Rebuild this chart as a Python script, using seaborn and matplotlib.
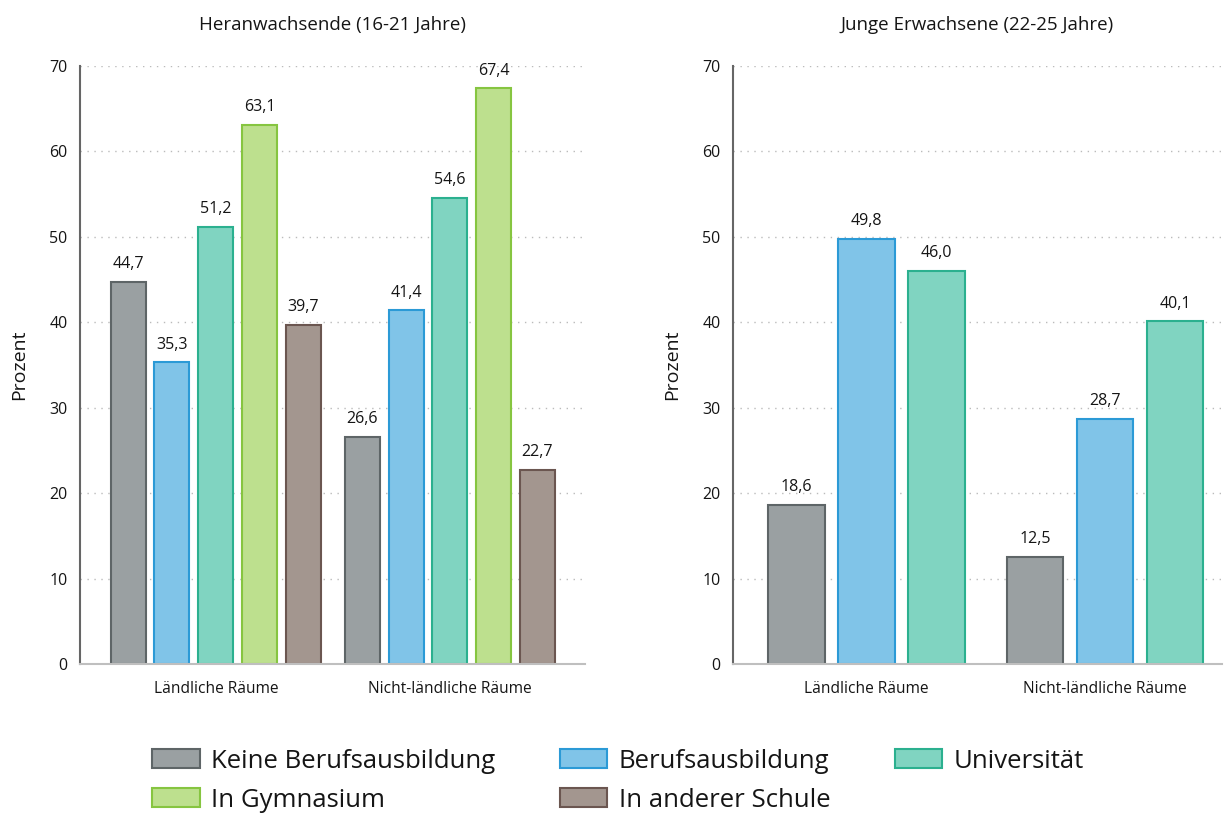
import seaborn as sns
import matplotlib.pyplot as plt
import pandas as pd
from matplotlib.patches import Patch

# Data
regions = ["Ländliche Räume", "Nicht-ländliche Räume"]
status_young = ["Keine Berufsausbildung", "Berufsausbildung", "Universität", "In Gymnasium", "In anderer Schule"]
status_adult = ["Keine Berufsausbildung", "Berufsausbildung", "Universität"]

young_rural = [44.7, 35.3, 51.2, 63.1, 39.7]
young_urban = [26.6, 41.4, 54.6, 67.4, 22.7]
adult_rural = [18.6, 49.8, 46.0]
adult_urban = [12.5, 28.7, 40.1]

fill = {
    "Keine Berufsausbildung": "#9AA0A2",
    "Berufsausbildung": "#80C4E8",
    "Universität": "#80D4C1",
    "In Gymnasium": "#BDE08E",
    "In anderer Schule": "#A3968F",
}
edge = {
    "Keine Berufsausbildung": "#5E6567",
    "Berufsausbildung": "#2B9AD6",
    "Universität": "#2BB08F",
    "In Gymnasium": "#86C540",
    "In anderer Schule": "#6B5650",
}

TXT = "#151515"


def make_df(status, rural, urban):
    rows = []
    for s, v in zip(status, rural):
        rows.append({"region": regions[0], "status": s, "value": v})
    for s, v in zip(status, urban):
        rows.append({"region": regions[1], "status": s, "value": v})
    return pd.DataFrame(rows)


df_young = make_df(status_young, young_rural, young_urban)
df_adult = make_df(status_adult, adult_rural, adult_urban)

sns.set_style("white")
plt.rcParams["font.family"] = ["Open Sans", "DejaVu Sans"]
plt.rcParams["text.color"] = TXT

fig = plt.figure(figsize=(12.28, 8.14), dpi=100)
ax1 = fig.add_axes([0.0651, 0.1843, 0.4113, 0.7346])
ax2 = fig.add_axes([0.5969, 0.1843, 0.3982, 0.7346])


def draw(ax, df, status, width, gap, xlim, title):
    sns.barplot(data=df, x="region", y="value", hue="status", hue_order=status,
                palette=[fill[s] for s in status], width=width, gap=gap,
                ax=ax, legend=False, saturation=1)
    for cont, s in zip(ax.containers, status):
        for bar in cont:
            bar.set_edgecolor(edge[s])
            bar.set_linewidth(1.5)
        ax.bar_label(cont, labels=[f"{v:.1f}".replace(".", ",") for v in cont.datavalues],
                     padding=7, fontsize=11.5, color=TXT)
    ax.set_ylim(0, 70)
    ax.set_xlim(*xlim)
    ax.set_yticks(range(0, 71, 10))
    ax.yaxis.grid(True, linestyle=(0, (1, 4)), color="#BBBBBB", linewidth=1)
    ax.set_axisbelow(True)
    ax.set_xlabel("")
    ax.set_ylabel("Prozent", fontsize=14, labelpad=15, color=TXT)
    ax.set_title(title, fontsize=13.5, pad=26, color=TXT)
    for side in ["top", "right"]:
        ax.spines[side].set_visible(False)
    ax.spines["left"].set_color("#666666")
    ax.spines["left"].set_linewidth(1.5)
    ax.spines["bottom"].set_color("#BFBFBF")
    ax.spines["bottom"].set_linewidth(1.5)
    ax.tick_params(axis="y", length=5, width=1.5, color="#888888", labelsize=11.5,
                   pad=4, labelcolor=TXT)
    ax.tick_params(axis="x", length=0, labelsize=11.2, pad=12, labelcolor=TXT)


draw(ax1, df_young, status_young, 0.935, 0.2, (-0.58, 1.577), "Heranwachsende (16-21 Jahre)")
draw(ax2, df_adult, status_adult, 0.88, 0.19, (-0.56, 1.49), "Junge Erwachsene (22-25 Jahre)")

# legend order: row-major for 3 columns
order = ["Keine Berufsausbildung", "In Gymnasium", "Berufsausbildung", "In anderer Schule", "Universität"]
handles = [Patch(facecolor=fill[s], edgecolor=edge[s], linewidth=1.5, label=s) for s in order]
fig.legend(handles=handles, ncol=3, loc="lower left", bbox_to_anchor=(0.105, -0.027),
           frameon=False, fontsize=18.5, handlelength=1.85, handleheight=0.75,
           columnspacing=2.5, handletextpad=0.45, labelspacing=0.55)

fig.savefig("out.png", dpi=100)
